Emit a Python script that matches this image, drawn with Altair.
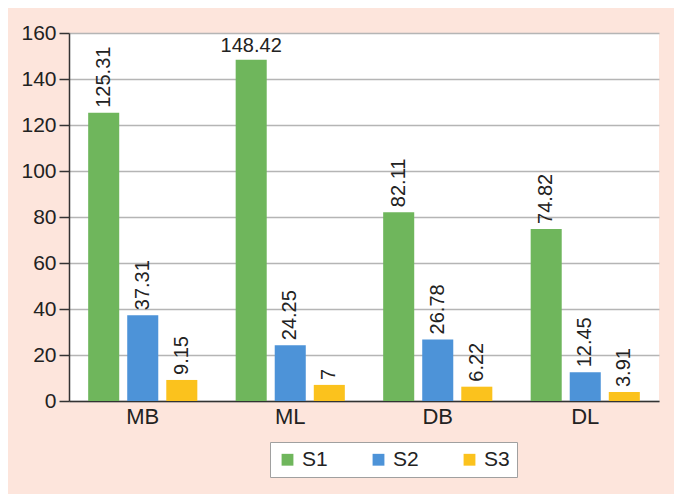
import altair as alt
import pandas as pd

groups = ["MB", "ML", "DB", "DL"]
series = ["S1", "S2", "S3"]
s1 = [125.31, 148.42, 82.11, 74.82]
s2 = [37.31, 24.25, 26.78, 12.45]
s3 = [9.15, 7, 6.22, 3.91]
colors = ["#6fb65c", "#4d93d8", "#fbc21d"]

rows = []
for i, g in enumerate(groups):
    for s, vals in zip(series, [s1, s2, s3]):
        v = vals[i]
        rows.append({"group": g, "series": s, "value": v, "label": f"{v:g}",
                     "flat": v > 140})
df = pd.DataFrame(rows)

FONT = "Liberation Sans"

x = alt.X("group:N", sort=groups, title=None,
          scale=alt.Scale(paddingInner=0.26, paddingOuter=0.13),
          axis=alt.Axis(labelAngle=0, labelFontSize=22, labelColor="#222222",
                        ticks=False, domainColor="#333333", domainWidth=1.5,
                        labelPadding=5, grid=False))
xoff = alt.XOffset("series:N", sort=series,
                   scale=alt.Scale(paddingInner=0.205, paddingOuter=0))

base = alt.Chart(df)

bars = base.mark_bar().encode(
    x=x,
    xOffset=xoff,
    y=alt.Y("value:Q", title=None,
            scale=alt.Scale(domain=[0, 160]),
            axis=alt.Axis(values=[0, 20, 40, 60, 80, 100, 120, 140, 160],
                          labelFontSize=21, labelColor="#222222",
                          tickSize=10, tickColor="#333333", tickWidth=1.5,
                          domainColor="#333333", domainWidth=1.5,
                          gridColor="#b5b5b5", gridWidth=1.5, labelPadding=3)),
    color=alt.Color("series:N", sort=series,
                    scale=alt.Scale(domain=series, range=colors),
                    legend=alt.Legend(title=None, orient="none", direction="horizontal",
                                      legendX=201, legendY=409,
                                      labelFontSize=21, labelColor="#222222",
                                      symbolType="square", symbolSize=140,
                                      symbolStrokeWidth=0,
                                      columnPadding=40, padding=7,
                                      fillColor="white", strokeColor="#a0a0a0",
                                      labelFont=FONT)),
)

rot_labels = base.mark_text(angle=270, align="left", baseline="middle", dx=5,
                            fontSize=20, font=FONT, color="#222222").encode(
    x=alt.X("group:N", sort=groups),
    xOffset=alt.XOffset("series:N", sort=series),
    y=alt.Y("value:Q"),
    text="label:N",
).transform_filter("!datum.flat")

flat_labels = base.mark_text(align="center", baseline="bottom", dy=-4,
                             fontSize=20, font=FONT, color="#222222").encode(
    x=alt.X("group:N", sort=groups),
    xOffset=alt.XOffset("series:N", sort=series),
    y=alt.Y("value:Q"),
    text="label:N",
).transform_filter("datum.flat")

chart = (bars + rot_labels + flat_labels).properties(
    width=590, height=368,
    background="#fde5dc",
    padding={"left": 61, "top": 25, "right": 15, "bottom": 93},
    autosize=alt.AutoSizeParams(type="none"),
).configure_view(fill="white", stroke=None).configure_axis(
    labelFont=FONT
)

chart.save("out.html", embed_options={"renderer": "svg", "actions": False})
